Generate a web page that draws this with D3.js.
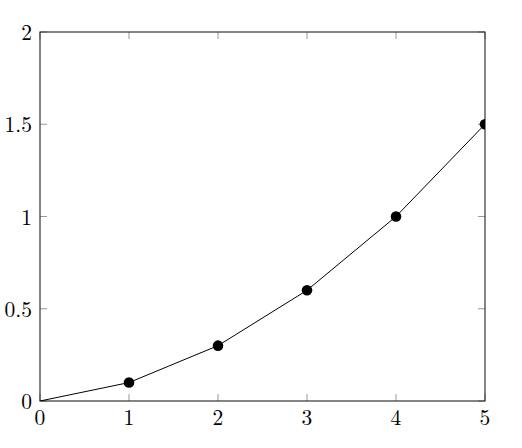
<!DOCTYPE html>
<html>
<head>
<meta charset="utf-8">
<script src="https://cdn.jsdelivr.net/npm/d3@7"></script>
<style>
  body { margin: 0; background: #fff; }
  text { font-family: "Latin Modern Roman", "Liberation Serif", "DejaVu Serif", serif; font-size: 21.5px; fill: #000; }
</style>
</head>
<body>
<div id="chart"></div>
<script>
// data
let xValues = [0, 1, 2, 3, 4, 5]
let yValues = [0, 0.1, 0.3, 0.6, 1, 1.5]
let xTicks = [0, 1, 2, 3, 4, 5]
let yTicks = [0, 0.5, 1, 1.5, 2]

let width = 522, height = 448
let margin = { top: 32, right: 37, bottom: 47, left: 40 }
let tickLen = 7

let svg = d3.select("#chart").append("svg")
    .attr("width", width)
    .attr("height", height)

let x = d3.scaleLinear().domain([0, 5]).range([margin.left, width - margin.right])
let y = d3.scaleLinear().domain([0, 2]).range([height - margin.bottom, margin.top])

// clip for the plot area
svg.append("clipPath").attr("id", "plotClip")
    .append("rect")
    .attr("x", x(0)).attr("y", y(2))
    .attr("width", x(5) - x(0)).attr("height", y(0) - y(2))

// inward ticks on all four sides
let tickColor = "#999"
let ticksG = svg.append("g").attr("stroke", tickColor).attr("stroke-width", 1)
xTicks.forEach(function (t) {
    ticksG.append("line").attr("x1", x(t)).attr("x2", x(t)).attr("y1", y(0)).attr("y2", y(0) - tickLen)
    ticksG.append("line").attr("x1", x(t)).attr("x2", x(t)).attr("y1", y(2)).attr("y2", y(2) + tickLen)
})
yTicks.forEach(function (t) {
    ticksG.append("line").attr("x1", x(0)).attr("x2", x(0) + tickLen).attr("y1", y(t)).attr("y2", y(t))
    ticksG.append("line").attr("x1", x(5)).attr("x2", x(5) - tickLen).attr("y1", y(t)).attr("y2", y(t))
})

// tick labels
svg.append("g").selectAll("text").data(xTicks).join("text")
    .attr("x", d => x(d))
    .attr("y", y(0) + 24)
    .attr("text-anchor", "middle")
    .text(d => d)

svg.append("g").selectAll("text").data(yTicks).join("text")
    .attr("x", x(0) - 8)
    .attr("y", d => y(d) + 8)
    .attr("text-anchor", "end")
    .text(d => d)

// frame
svg.append("rect")
    .attr("x", x(0)).attr("y", y(2))
    .attr("width", x(5) - x(0)).attr("height", y(0) - y(2))
    .attr("fill", "none")
    .attr("stroke", "#222")
    .attr("stroke-width", 1.1)

let points = xValues.map((v, i) => ({ x: v, y: yValues[i] }))

let plot = svg.append("g").attr("clip-path", "url(#plotClip)")

plot.append("path")
    .datum(points)
    .attr("fill", "none")
    .attr("stroke", "#000")
    .attr("stroke-width", 1)
    .attr("d", d3.line().x(d => x(d.x)).y(d => y(d.y)))

// no marker at the origin in the reference
plot.selectAll("circle").data(points.filter(d => d.x > 0)).join("circle")
    .attr("cx", d => x(d.x))
    .attr("cy", d => y(d.y))
    .attr("r", 5.3)
    .attr("fill", "#000")
</script>
</body>
</html>
